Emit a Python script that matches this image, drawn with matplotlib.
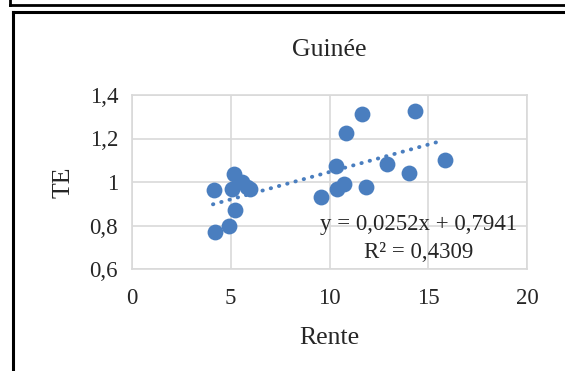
import matplotlib
matplotlib.use("Agg")
import matplotlib.pyplot as plt
import numpy as np
from matplotlib.lines import Line2D

rente = [4.16, 4.22, 4.9, 5.15, 5.08, 5.21, 5.58, 5.99, 5.8,
         9.58, 10.39, 10.73, 10.34, 10.83, 11.64, 11.86, 12.89, 14.04, 14.33, 15.87]
te = [0.963, 0.769, 0.80, 1.035, 0.968, 0.873, 1.0, 0.966, 0.975,
      0.93, 0.966, 0.991, 1.074, 1.224, 1.313, 0.978, 1.081, 1.043, 1.328, 1.10]
slope, intercept = 0.0252, 0.7941
trend_range = [4.1, 15.55]
xticks = [0, 5, 10, 15, 20]
yticks = [0.6, 0.8, 1.0, 1.2, 1.4]
ytick_labels = ["0,6", "0,8", "1", "1,2", "1,4"]
xtick_labels = ["0", "5", "10", "15", "20"]

plt.rcParams['font.family'] = ['Liberation Serif', 'DejaVu Serif']
W, H = 565, 371
fig = plt.figure(figsize=(W/100, H/100), dpi=100)
ax = fig.add_axes([132/W, (H-269)/H, (527-132)/W, (269-95)/H])

blue = '#4a7ebf'
ax.scatter(rente, te, s=130, color=blue, zorder=3, linewidths=0)
tx = np.array(trend_range)
ax.plot(tx, slope*tx + intercept, color=blue, lw=2.8, linestyle=(0, (0.1, 2.1)),
        dash_capstyle='round', zorder=2)

ax.set_xlim(0, 20)
ax.set_ylim(0.6, 1.4)
ax.set_xticks(xticks)
ax.set_xticklabels(xtick_labels)
ax.set_yticks(yticks)
ax.set_yticklabels(ytick_labels)
ax.grid(True, color='#d9d9d9', lw=1.2)
ax.set_axisbelow(True)
for sp in ax.spines.values():
    sp.set_color('#d9d9d9')
    sp.set_linewidth(1.2)
ax.tick_params(length=0, labelsize=16.5, colors='#262626')
ax.tick_params(axis='x', pad=14)
ax.tick_params(axis='y', pad=10)
ax.set_xlabel("Rente", fontsize=18.5, color='#262626', labelpad=13)
ax.set_ylabel("TE", fontsize=18.5, color='#262626', labelpad=11)
ax.set_title("Guinée", fontsize=18.5, color='#262626', pad=28)

ax.text(14.5, 0.805, "y = 0,0252x + 0,7941", fontsize=16.5, ha='center', va='center', color='#262626')
ax.text(14.5, 0.678, "R² = 0,4309", fontsize=16.5, ha='center', va='center', color='#262626')

fig.add_artist(Line2D([10/W, 1], [1-5/H, 1-5/H], color='black', lw=2, transform=fig.transFigure))
fig.add_artist(Line2D([10/W, 10/W], [1, 1-5/H], color='black', lw=2, transform=fig.transFigure))
fig.add_artist(Line2D([13/W, 1], [1-12/H, 1-12/H], color='black', lw=2.2, transform=fig.transFigure))
fig.add_artist(Line2D([13/W, 13/W], [0, 1-12/H], color='black', lw=2.2, transform=fig.transFigure))

fig.savefig("out.png", dpi=100)
